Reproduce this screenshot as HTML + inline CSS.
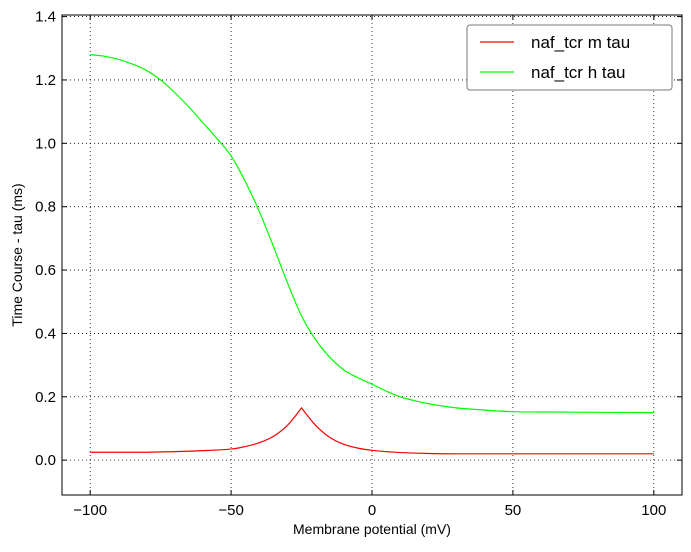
<!DOCTYPE html>
<html><head><meta charset="utf-8"><style>
body{margin:0;background:#fff;font-family:"Liberation Sans","DejaVu Sans",sans-serif}
svg text{font-family:"Liberation Sans","DejaVu Sans",sans-serif}
</style></head><body>
<svg id="c" width="691" height="547"></svg>
<script>
const xs=[-100,-95,-90,-85,-80,-75,-70,-65,-60,-55,-50,-45,-40,-35,-30,-25,-20,-15,-10,-5,0,5,10,15,20,30,40,50,60,80,100];
const hTau=[1.28,1.275,1.265,1.25,1.23,1.2,1.16,1.115,1.065,1.015,0.96,0.88,0.785,0.675,0.56,0.455,0.38,0.325,0.285,0.26,0.24,0.218,0.2,0.188,0.178,0.165,0.158,0.153,0.152,0.151,0.15];
const mXs=[-100,-80,-70,-60,-50,-45,-40,-35,-30,-25,-20,-15,-10,-5,0,5,10,20,30,50,100];
const mTau=[0.025,0.025,0.027,0.03,0.035,0.043,0.055,0.075,0.11,0.165,0.11,0.072,0.05,0.038,0.031,0.027,0.024,0.021,0.02,0.02,0.02];
const xTicks=[-100,-50,0,50,100];
const yTicks=[0.0,0.2,0.4,0.6,0.8,1.0,1.2,1.4];
const L=62,R=682,T=15,B=495,x0=-110,x1=110,y0=-0.11,y1=1.405;
const X=v=>L+(v-x0)/(x1-x0)*(R-L), Y=v=>B-(v-y0)/(y1-y0)*(B-T);
const svg=document.getElementById('c');const NS='http://www.w3.org/2000/svg';
function mk(t,a,txt){const e=document.createElementNS(NS,t);for(const k in a)e.setAttribute(k,a[k]);if(txt!=null)e.textContent=txt;svg.appendChild(e);return e;}
xTicks.forEach(v=>{
const g=mk('line',{x1:X(v),x2:X(v),y1:T,y2:B,stroke:'#000','stroke-dasharray':'1,3','stroke-width':0.8});


mk('line',{x1:X(v),x2:X(v),y1:B,y2:B-5,stroke:'#000'});mk('line',{x1:X(v),x2:X(v),y1:T,y2:T+5,stroke:'#000'});
const t=mk('text',{x:X(v),y:B+20,'text-anchor':'middle','font-size':15},v<0?'\u2212'+(-v):v);


});
yTicks.forEach(v=>{
const g=mk('line',{x1:L,x2:R,y1:Y(v),y2:Y(v),stroke:'#000','stroke-dasharray':'1,3','stroke-width':0.8});


mk('line',{x1:L,x2:L+5,y1:Y(v),y2:Y(v),stroke:'#000'});mk('line',{x1:R,x2:R-5,y1:Y(v),y2:Y(v),stroke:'#000'});
const t=mk('text',{x:L-6,y:Y(v)+5,'text-anchor':'end','font-size':15},v.toFixed(1));


});
function line(xa,ya,col,name){
const P=xa.map((v,i)=>[X(v),Y(ya[i])]);
let d='M'+P[0][0]+','+P[0][1];
for(let i=0;i<P.length-1;i++){const p0=P[Math.max(i-1,0)],p1=P[i],p2=P[i+1],p3=P[Math.min(i+2,P.length-1)];
const k=(i+1===P.length-1||i===0)?6:6;
const c1=[p1[0]+(p2[0]-p0[0])/k,p1[1]+(p2[1]-p0[1])/k],c2=[p2[0]-(p3[0]-p1[0])/k,p2[1]-(p3[1]-p1[1])/k];
// keep the cusp sharp at the m-tau peak
if(name==='m-tau-line'){const pk=mTau.indexOf(Math.max(...mTau));if(i+1===pk){c2[0]=p2[0];c2[1]=p2[1];}if(i===pk){c1[0]=p1[0];c1[1]=p1[1];}}
d+=' C'+c1[0]+','+c1[1]+' '+c2[0]+','+c2[1]+' '+p2[0]+','+p2[1];}
const p=mk('path',{d:d,fill:'none',stroke:col,'stroke-width':1.2});

}
line(mXs,mTau,'#ff0000','m-tau-line');
line(xs,hTau,'#00ff00','h-tau-line');
const fr=mk('rect',{x:L,y:T,width:R-L,height:B-T,fill:'none',stroke:'#000'});


const xl=mk('text',{x:372,y:534,'text-anchor':'middle','font-size':14},'Membrane potential (mV)');


const yl=mk('text',{x:22,y:255,'text-anchor':'middle','font-size':14,transform:'rotate(-90 22 255)'},'Time Course - tau (ms)');


const lg=mk('rect',{x:467,y:25,width:205,height:65,rx:3,fill:'#fff',stroke:'#777'});


[['naf_tcr m tau','#ff0000',42],['naf_tcr h tau','#00ff00',72]].forEach(([s,c,y])=>{
mk('line',{x1:480,x2:514,y1:y,y2:y,stroke:c,'stroke-width':1.2});
const t=mk('text',{x:531,y:y+6,'font-size':17},s);


});
</script>
</body></html>
